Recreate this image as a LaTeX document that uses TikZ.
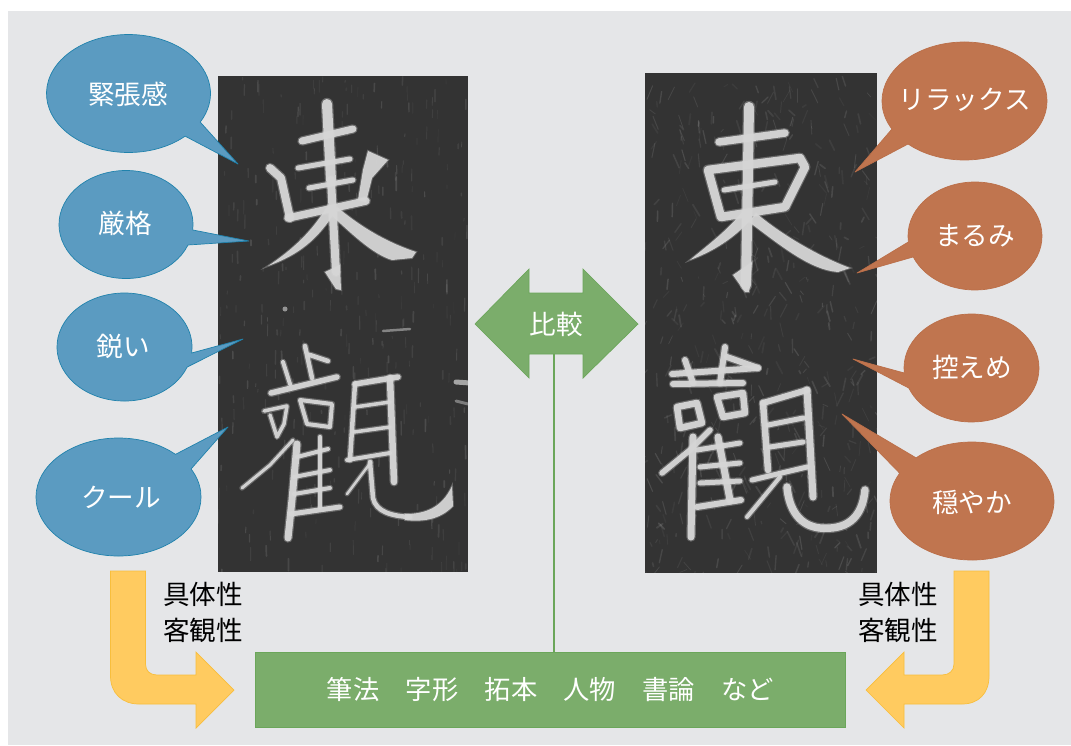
\documentclass[tikz,border=0pt]{standalone}
\usepackage{fontspec}
\setmainfont{Noto Sans CJK JP}
\definecolor{pagebg}{HTML}{E5E6E8}
\definecolor{bluefill}{HTML}{5B9BC1}
\definecolor{blueline}{HTML}{2082AC}
\definecolor{orangefill}{HTML}{C0754F}
\definecolor{orangeline}{HTML}{BB6F49}
\definecolor{greenfill}{HTML}{7BAD6B}
\definecolor{greenline}{HTML}{6BA65A}
\definecolor{yellowfill}{HTML}{FFCB60}
\definecolor{yellowline}{HTML}{F8BE3C}
\definecolor{stoneink}{HTML}{333333}
\definecolor{chalk}{HTML}{D6D6D6}
\tikzset{
  bluebub/.style={fill=bluefill,draw=blueline,line width=0.7pt,line join=round},
  orangebub/.style={fill=orangefill,draw=orangeline,line width=0.7pt,line join=round},
  whitelabel/.style={text=white,font=\fontsize{26.6}{30}\selectfont,inner sep=0pt},
  blacklabel/.style={text=black,font=\fontsize{26.6}{30}\selectfont,inner sep=0pt},
  yellowarrow/.style={fill=yellowfill,draw=yellowline,line width=0.7pt,line join=miter},
  wash/.style={fill=chalk,opacity=0.95,draw=chalk,draw opacity=.3,line width=2pt},
}
% style, cx, cy, rx, ry, start angle, end angle, tip x, tip y
\newcommand\speechbub[9]{%
  \draw[#1] (#2,#3) ++(#6:#4pt and #5pt)
    arc[start angle=#6,end angle=#7,x radius=#4pt,y radius=#5pt] -- (#8,#9) -- cycle;}
% brush stroke with a soft edge: width, path
\newcommand\bl[2]{%
  \pgfmathsetmacro\softw{#1+2.4}%
  \draw[chalk,opacity=.32,line width=\softw pt,line cap=round,line join=round] #2;
  \draw[chalk,opacity=.95,line width=#1pt,line cap=round,line join=round] #2;}
% x0, y0, width, height, seed, dots, streak slant
\newcommand\stonenoise[7]{%
  \pgfmathsetseed{#5}%
  \foreach \i in {1,...,#6}{%
    \pgfmathsetmacro\nx{#1+rnd*#3}%
    \pgfmathsetmacro\ny{#2+rnd*#4}%
    \pgfmathsetmacro\nr{0.6+rnd*1.2}%
    \pgfmathsetmacro\no{0.03+rnd*0.09}%
    \pgfmathsetmacro\dx{#7*(rnd-0.5)*14}%
    \pgfmathsetmacro\dy{2+rnd*12}%
    \draw[white,opacity=\no,line width=\nr pt,line cap=round] (\nx,\ny) -- ++(\dx,\dy);
  }}
\begin{document}
\begin{tikzpicture}[x=1pt,y=1pt,yscale=-1]
\useasboundingbox (0,0) rectangle (1071,745);
\fill[white] (0,0) rectangle (1071,745);
\fill[pagebg] (8,11) rectangle (1071,745);

% left rubbing
\fill[stoneink] (218,76) rectangle (468,572);
\begin{scope}
  \clip (218,76) rectangle (468,572);
  \stonenoise{218}{76}{250}{496}{11}{320}{0.05}
  % east
  \bl{10}{(327,104) -- (331,180)}
  \bl{8}{(331,180) -- (336,272)}
  \fill[wash] (325,272) -- (340,265) -- (341,290) -- (336,289) -- cycle;
  \bl{7}{(302,141) -- (353,129)}
  \bl{5}{(298,168) -- (350,159)}
  \bl{5}{(309,188) -- (353,180)}
  \bl{7.5}{(288,218) -- (366,201)}
  \bl{8}{(270,168) -- (281,178) -- (290,218)}
  \fill[wash] (368,151) -- (388,160) -- (372,178) -- (366,202) -- (358,200) -- (363,170) -- cycle;
  \fill[wash] (328,205) -- (336,210) .. controls (318,240) and (298,255) .. (268,266) .. controls (292,250) and (312,232) .. (328,205) -- cycle;
  \fill[wash] (330,214) -- (337,207) .. controls (355,222) and (380,240) .. (416,252) -- (412,258) -- (392,260) .. controls (372,254) and (350,232) .. (330,214) -- cycle;
  % kan, left part
  \bl{4.5}{(305,346) -- (312,378)}
  \bl{4.5}{(310,355) -- (328,361)}
  \bl{5.5}{(271,393) -- (337,377)}
  \bl{4}{(283,362) -- (290,384)}
  \bl{3.5}{(264,411) -- (287,406) -- (284,424) -- (277,437) -- (270,415)}
  \bl{4}{(300,400) -- (332,404) -- (330,427) -- (307,424) -- cycle}
  \bl{3}{(293,440) -- (270,465) -- (242,488)}
  \bl{7}{(297,444) -- (292,500) -- (288,538)}
  \bl{4.5}{(320,437) -- (320,507)}
  \bl{4}{(297,457) -- (328,449)}
  \bl{4}{(294,477) -- (330,470)}
  \bl{4}{(294,494) -- (330,488)}
  \bl{5}{(291,514) -- (340,507)}
  % kan, right part
  \bl{4.5}{(355,384) -- (350,460)}
  \bl{5.5}{(355,384) -- (398,377)}
  \bl{6.5}{(390,378) -- (394,482)}
  \bl{3.5}{(355,407) -- (390,402)}
  \bl{3.5}{(354,432) -- (390,427)}
  \bl{4}{(347,460) -- (390,453)}
  \bl{2.5}{(371,462) -- (347,494)}
  \bl{4.5}{(370,462) -- (373,498) .. controls (376,512) and (392,516) .. (410,517)}
  \fill[wash] (405,514) .. controls (425,514) and (442,508) .. (452,486) -- (453,506) .. controls (440,520) and (422,522) .. (405,520) -- cycle;
  % stray marks of the stone
  \draw[chalk,opacity=.7,line width=5pt,line cap=round] (456,382) -- (470,383);
  \draw[chalk,opacity=.45,line width=3pt,line cap=round] (456,401) -- (468,404);
  \draw[chalk,opacity=.5,line width=2.5pt,line cap=round] (383,331) -- (410,329);
  \fill[chalk,opacity=.6] (285,309) circle[radius=2.5pt];
\end{scope}

% right rubbing
\fill[stoneink] (645,73) rectangle (877,573);
\begin{scope}
  \clip (645,73) rectangle (877,573);
  \stonenoise{645}{73}{232}{500}{29}{520}{1}
  % east
  \bl{10}{(749,107) -- (746,285)}
  \fill[wash] (733,275) -- (752,262) -- (749,292) -- (745,292) -- cycle;
  \bl{7.5}{(719,142) -- (785,133)}
  \bl{8.5}{(708,170) -- (800,158) -- (805,167) -- (785,207) -- (721,217) -- cycle}
  \bl{5}{(724,190) -- (775,182)}
  \fill[wash] (742,212) -- (752,218) .. controls (735,238) and (712,252) .. (690,260) .. controls (708,245) and (728,230) .. (742,212) -- cycle;
  \fill[wash] (749,222) -- (756,213) .. controls (778,232) and (815,255) .. (850,268) -- (838,272) .. controls (810,270) and (780,245) .. (749,222) -- cycle;
  % kan, left part
  \bl{6}{(725,347) -- (720,383)}
  \bl{6}{(727,357) -- (758,368)}
  \bl{6}{(672,374) -- (758,368)}
  \bl{6}{(685,360) -- (693,383)}
  \bl{6}{(673,384) -- (743,383)}
  \bl{6.5}{(677,407) -- (697,403) -- (702,423) -- (680,428) -- cycle}
  \bl{6.5}{(717,397) -- (743,393) -- (745,413) -- (723,417) -- cycle}
  \bl{5.5}{(710,430) -- (690,450) -- (662,473)}
  \bl{7}{(693,437) -- (691,537)}
  \bl{7}{(718,437) -- (730,500)}
  \bl{5}{(697,450) -- (740,443)}
  \bl{5}{(700,467) -- (740,463)}
  \bl{5}{(700,483) -- (740,481)}
  \bl{6}{(697,507) -- (741,500)}
  % kan, right part
  \bl{6.5}{(763,403) -- (768,470)}
  \bl{6}{(763,403) -- (807,390)}
  \bl{7}{(807,390) -- (813,497)}
  \bl{5}{(768,425) -- (803,418)}
  \bl{5}{(770,447) -- (803,442)}
  \bl{5}{(752,480) -- (807,467)}
  \bl{4}{(780,477) -- (747,517)}
  \bl{7.5}{(787,487) .. controls (789,510) and (800,526) .. (820,528) .. controls (845,530) and (862,520) .. (865,490)}
\end{scope}

% speech bubbles, left
\speechbub{bluebub}{128.5}{93.5}{82}{59}{46.3}{389}{238}{164}
\speechbub{bluebub}{126}{224.5}{67}{54}{22.3}{365.8}{249}{241}
\speechbub{bluebub}{124.5}{347}{67.5}{54}{21.8}{366.4}{243}{339}
\speechbub{bluebub}{118.5}{497}{82.5}{59}{-28.4}{313.7}{228}{427}
\node[whitelabel] (kinchokan) at (128,94) {緊張感};
\node[whitelabel] (genkaku) at (125.5,223) {厳格};
\node[whitelabel] (surudoi) at (123.5,346) {鋭い};
\node[whitelabel] (kuru) at (121,497) {クール};

% speech bubbles, right
\speechbub{orangebub}{964.5}{101}{82.5}{59}{151.6}{493.2}{855}{172}
\speechbub{orangebub}{975}{236}{67}{54}{173.7}{517.2}{857}{273}
\speechbub{orangebub}{971.5}{368}{67.5}{54}{174.7}{518.2}{853}{359}
\speechbub{orangebub}{972}{501}{82}{59}{227}{568.1}{842}{414}
\node[whitelabel] (rirakkusu) at (964.5,100) {リラックス};
\node[whitelabel] (marumi) at (975,236) {まるみ};
\node[whitelabel] (hikaeme) at (972,367) {控えめ};
\node[whitelabel] (odayaka) at (972,502) {穏やか};

% bottom box and comparison arrow
\node[draw=greenline,fill=greenfill,line width=0.7pt,minimum width=590.5pt,minimum height=75.5pt,
      inner sep=0pt,text=white,font=\fontsize{26.3}{30}\selectfont] (basis) at (550.5,690)
      {筆法　字形　拓本　人物　書論　など};
\coordinate (arrowfoot) at (554,354);
\draw[greenline,line width=1.2pt] (arrowfoot) -- (arrowfoot |- basis.north);
\draw[fill=greenfill,draw=greenline,line width=0.7pt,line join=miter]
  (475,324) -- (529,269) -- (529,293) -- (583,293) -- (583,269) -- (638,324)
  -- (583,378) -- (583,354) -- (529,354) -- (529,378) -- cycle;
\node[whitelabel] (hikaku) at (556,324) {比較};

% yellow bent arrows
\draw[yellowarrow] (110.5,571) -- (145.5,571) -- (145.5,664)
  .. controls (145.5,671) and (150,675) .. (157,675) -- (196,675) -- (196,652)
  -- (234,690) -- (196,728) -- (196,704) -- (139,704)
  .. controls (122,704) and (110.5,693) .. (110.5,676) -- cycle;
\draw[yellowarrow] (989,571) -- (954,571) -- (954,664)
  .. controls (954,671) and (949,675) .. (942,675) -- (904,675) -- (904,652)
  -- (866,690) -- (904,728) -- (904,704) -- (962,704)
  .. controls (979,704) and (989,693) .. (989,676) -- cycle;

\node[blacklabel] (gutaiL) at (203,594) {具体性};
\node[blacklabel] (kyakuL) at (203,630) {客観性};
\node[blacklabel] (gutaiR) at (898,594) {具体性};
\node[blacklabel] (kyakuR) at (898,630) {客観性};
\end{tikzpicture}
\end{document}
